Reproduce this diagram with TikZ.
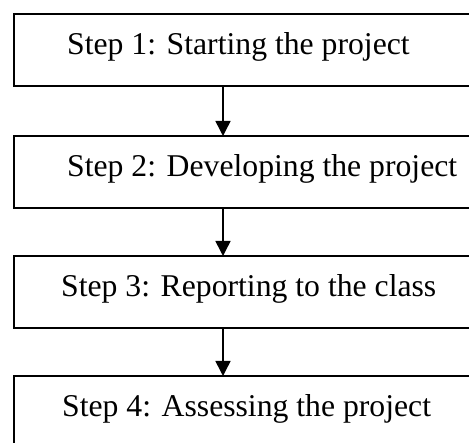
\documentclass[tikz,border=0pt]{standalone}
\usepackage{fontspec}
\setmainfont{Liberation Serif}
\usetikzlibrary{arrows.meta,positioning,calc}

\begin{document}
\begin{tikzpicture}[
      x=1pt, y=-1pt,
      stepbox/.style={
         rectangle,
         draw=black,
         line width=1.5pt,
         outer sep=0pt,
         minimum width=476pt,
         minimum height=72pt},
      steptext/.style={
         anchor=base west,
         inner sep=0pt,
         font=\fontsize{31.7}{38}\selectfont},
      myarrow/.style={-{Triangle[width=15pt,length=15pt]}, line width=1.5pt},
      node distance=48pt
      ]
      \useasboundingbox (0,0) rectangle (469,443);
      \clip (0,0) rectangle (469,443);

      \node[stepbox] (box1) at (252,50) {};
      \node[stepbox,below=50pt of box1] (box2) {};
      \node[stepbox,below=of box2] (box3) {};
      \node[stepbox,below=of box3] (box4) {};
      \coordinate (axis) at (223,0);

      \node[steptext] (t1) at ($(box1.north west)+(53,41)$) {Step 1: Starting the project};
      \node[steptext] (t2) at ($(box2.north west)+(53,41)$) {Step 2: Developing the project};
      \node[steptext] (t3) at ($(box3.north west)+(47,41)$) {Step 3: Reporting to the class};
      \node[steptext] (t4) at ($(box4.north west)+(48,41)$) {Step 4: Assessing the project};

    \foreach \i/\j in {% upper box/lower box
      box1/box2,
      box2/box3,
      box3/box4}
       \draw [myarrow] (axis |- \i.south) -- (axis |- \j.north);
    \end{tikzpicture}
\end{document}
